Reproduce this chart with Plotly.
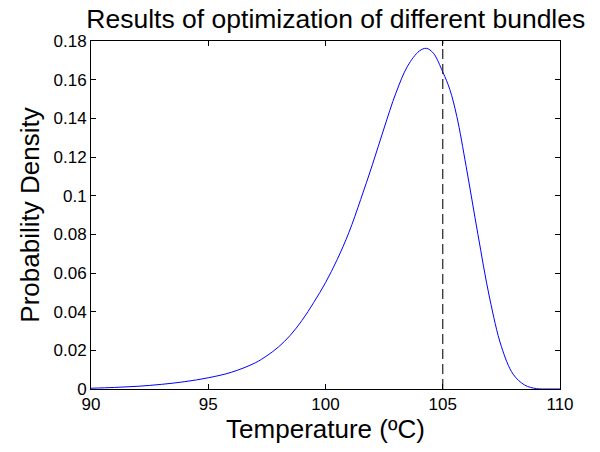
import plotly.graph_objects as go

temperature = [90, 91, 92, 93, 94, 95, 96, 97, 97.5, 98, 98.5, 99, 99.5, 100, 100.5,
               101, 101.5, 102, 102.5, 103, 103.5, 104, 104.3, 104.6, 105, 105.3, 105.6,
               106, 106.5, 107, 107.5, 108, 108.5, 109, 109.5, 110]
density = [0.0004, 0.0008, 0.0014, 0.0024, 0.0038, 0.0058, 0.0087, 0.0135, 0.0172, 0.0218,
           0.0278, 0.0355, 0.0448, 0.055, 0.067, 0.081, 0.098, 0.116, 0.135, 0.153, 0.167,
           0.1748, 0.1762, 0.1737, 0.164, 0.155, 0.141, 0.115, 0.080, 0.047, 0.022, 0.0077,
           0.002, 0.0002, 0.00002, 0.0]
limit_x = [105, 105]
limit_y = [0, 0.18]

x_ticks = [90, 95, 100, 105, 110]
y_ticks = [0, 0.02, 0.04, 0.06, 0.08, 0.1, 0.12, 0.14, 0.16, 0.18]
y_tick_labels = ["0", "0.02", "0.04", "0.06", "0.08", "0.1", "0.12", "0.14", "0.16", "0.18"]

fig = go.Figure()
fig.add_trace(go.Scatter(x=temperature, y=density, mode="lines",
                         line=dict(color="#0000ff", width=1, shape="spline", smoothing=1.0),
                         showlegend=False, hoverinfo="skip"))
fig.add_trace(go.Scatter(x=limit_x, y=limit_y, mode="lines",
                         line=dict(color="#222222", width=1.2, dash="10px,5px"),
                         showlegend=False, hoverinfo="skip"))

font_family = "Liberation Sans, Arial, sans-serif"
# page body adds an 8px offset; margins compensate so the axes box sits at x 91-560, y 41-389
fig.update_layout(
    width=600, height=452,
    margin=dict(l=83, r=48, t=33, b=71),
    paper_bgcolor="white", plot_bgcolor="white",
    font=dict(family=font_family, color="black"),
    title=dict(text="Results of optimization of different bundles",
               x=0.522, xref="paper", xanchor="center",
               y=1, yref="container", yanchor="top", pad=dict(t=1),
               font=dict(size=26.5, family=font_family, color="black")),
    xaxis=dict(range=[90, 110], tickvals=x_ticks, ticks="inside", ticklen=5,
               tickcolor="black", showgrid=False, zeroline=False, showline=True,
               linecolor="black", linewidth=1, mirror="ticks", automargin=False,
               tickfont=dict(size=17), title=dict(text="Temperature (ºC)", font=dict(size=26), standoff=5)),
    yaxis=dict(range=[0, 0.18], tickvals=y_ticks, ticktext=y_tick_labels, ticks="inside",
               ticklen=5, tickcolor="black", showgrid=False, zeroline=False, showline=True,
               linecolor="black", linewidth=1, mirror="ticks", automargin=False,
               tickfont=dict(size=17), title=dict(text="Probability Density", font=dict(size=26), standoff=6)),
)

fig.write_html("out.html")
